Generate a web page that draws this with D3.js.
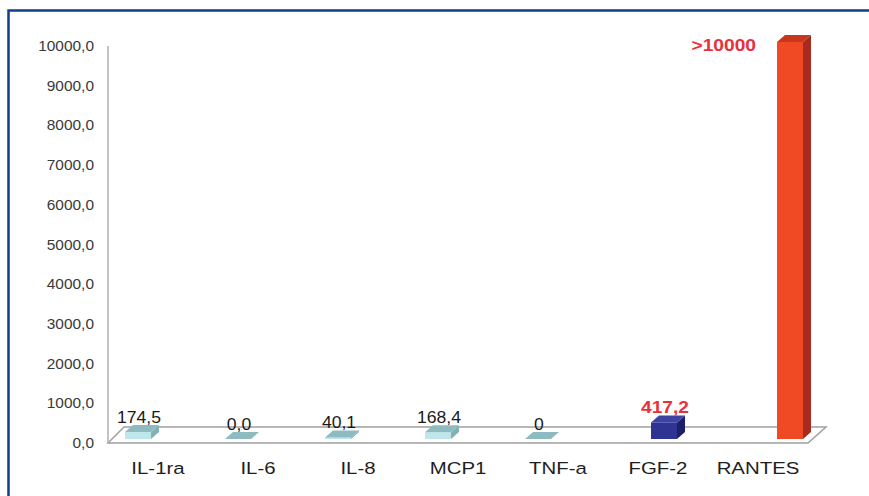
<!DOCTYPE html>
<html>
<head>
<meta charset="utf-8">
<script src="https://cdn.jsdelivr.net/npm/d3@7"></script>
<style>
  html, body { margin: 0; padding: 0; background: #ffffff; }
  svg { display: block; }
  text { font-family: Arial, "Liberation Sans", sans-serif; }
</style>
</head>
<body>
<svg id="chart" width="869" height="496"></svg>
<script>
// Cytokine concentrations per marker
const categories = ["IL-1ra", "IL-6", "IL-8", "MCP1", "TNF-a", "FGF-2", "RANTES"];
const seriesNames = ["s1", "s2", "s3"];
const seriesOf = ["s1", "s1", "s1", "s1", "s1", "s2", "s3"];
const values = [174.5, 0.0, 40.1, 168.4, 0, 417.2, 10000];
const valueLabels = ["174,5", "0,0", "40,1", "168,4", "0", "417,2", ">10000"];
const tickValues = [0, 1000, 2000, 3000, 4000, 5000, 6000, 7000, 8000, 9000, 10000];
const tickLabels = ["0,0", "1000,0", "2000,0", "3000,0", "4000,0", "5000,0",
                    "6000,0", "7000,0", "8000,0", "9000,0", "10000,0"];

// face colours per series: front, side, top
const palette = {
  s1: { front: "#bde7ea", side: "#80b1b5", top: "#8dbbbf", label: "#1a1a1a", weight: "normal", size: 16, stretch: 1.1 },
  s2: { front: "#2f3391", side: "#1d2068", top: "#3d42a3", label: "#e8313a", weight: "bold", size: 16, stretch: 1.2 },
  s3: { front: "#ef4a24", side: "#a82b1f", top: "#c9361f", label: "#e8313a", weight: "bold", size: 16, stretch: 1.2 }
};

const svg = d3.select("#chart");

// frame
svg.append("path")
  .attr("d", "M8.5,497 L8.5,10.5 L870,10.5")
  .attr("fill", "none").attr("stroke", "#123f8c").attr("stroke-width", 2.5);

const x0 = d3.scaleBand().domain(categories).range([108, 808]).padding(0);
const x1 = d3.scaleBand().domain(seriesNames).range([17, 95]).padding(0);
const y = d3.scaleLinear().domain([0, 10000]).range([443, 46]);

const floorDepth = { dx: 18, dy: -16 };
const barDepth = { dx: 8, dy: -7 };
const inset = 4;

// floor outline
const [fx0, fx1] = x0.range();
const fy = y(0);
svg.append("path")
  .attr("d", `M${fx0},${fy} L${fx1},${fy} L${fx1 + floorDepth.dx},${fy + floorDepth.dy} L${fx0 + floorDepth.dx - 2},${fy + floorDepth.dy} Z`)
  .attr("fill", "none").attr("stroke", "#a0a0a0").attr("stroke-width", 1.5);

// value axis line
svg.append("line")
  .attr("x1", fx0).attr("x2", fx0)
  .attr("y1", y(10000)).attr("y2", fy)
  .attr("stroke", "#b0b0b0").attr("stroke-width", 1.5);

function stretchedText(sel, x, yy, txt, size, stretch, anchor, fill, weight) {
  return sel.append("text")
    .attr("transform", `translate(${x},${yy}) scale(${stretch},1)`)
    .attr("text-anchor", anchor)
    .attr("font-size", size)
    .attr("font-weight", weight || "normal")
    .attr("fill", fill)
    .text(txt);
}

// tick labels
const tickG = svg.append("g");
tickValues.forEach((t, i) => {
  stretchedText(tickG, 94, y(t) + 5, tickLabels[i], 15, 1.03, "end", "#3a3a3a");
});

// category labels
const catG = svg.append("g");
categories.forEach(c => {
  stretchedText(catG, x0(c) + x0.bandwidth() / 2, 474, c, 17, 1.2, "middle", "#1e1e1e");
});

// 3D columns
const bars = categories.map((c, i) => {
  const s = seriesOf[i];
  const xl = x0(c) + x1(s);
  const w = x1.bandwidth();
  const yb = y(0) - inset;
  const yt = y(Math.min(values[i], 10000)) - inset;
  return { c, s, xl, w, yb, yt, v: values[i], label: valueLabels[i] };
});

const barG = svg.append("g");
bars.forEach(b => {
  const p = palette[b.s];
  const { dx, dy } = barDepth;
  const g = barG.append("g");
  // side face
  g.append("path")
    .attr("d", `M${b.xl + b.w},${b.yt} L${b.xl + b.w + dx},${b.yt + dy} L${b.xl + b.w + dx},${b.yb + dy} L${b.xl + b.w},${b.yb} Z`)
    .attr("fill", p.side);
  // front face
  g.append("rect")
    .attr("x", b.xl).attr("y", b.yt)
    .attr("width", b.w).attr("height", Math.max(0, b.yb - b.yt))
    .attr("fill", p.front);
  // top face
  g.append("path")
    .attr("d", `M${b.xl},${b.yt} L${b.xl + dx},${b.yt + dy} L${b.xl + b.w + dx},${b.yt + dy} L${b.xl + b.w},${b.yt} Z`)
    .attr("fill", p.top);
});

// value labels
const labG = svg.append("g");
bars.forEach(b => {
  const p = palette[b.s];
  const cx = b.xl + b.w / 2 + 1;
  let lx = cx, ly = b.yt - 9, anchor = "middle";
  if (ly < 50) {
    // no headroom above the plot: set the label beside the column
    lx = b.xl - 21; ly = b.yt + 9; anchor = "end";
  }
  stretchedText(labG, lx, ly, b.label, p.size, p.stretch, anchor, p.label, p.weight);
});
</script>
</body>
</html>
